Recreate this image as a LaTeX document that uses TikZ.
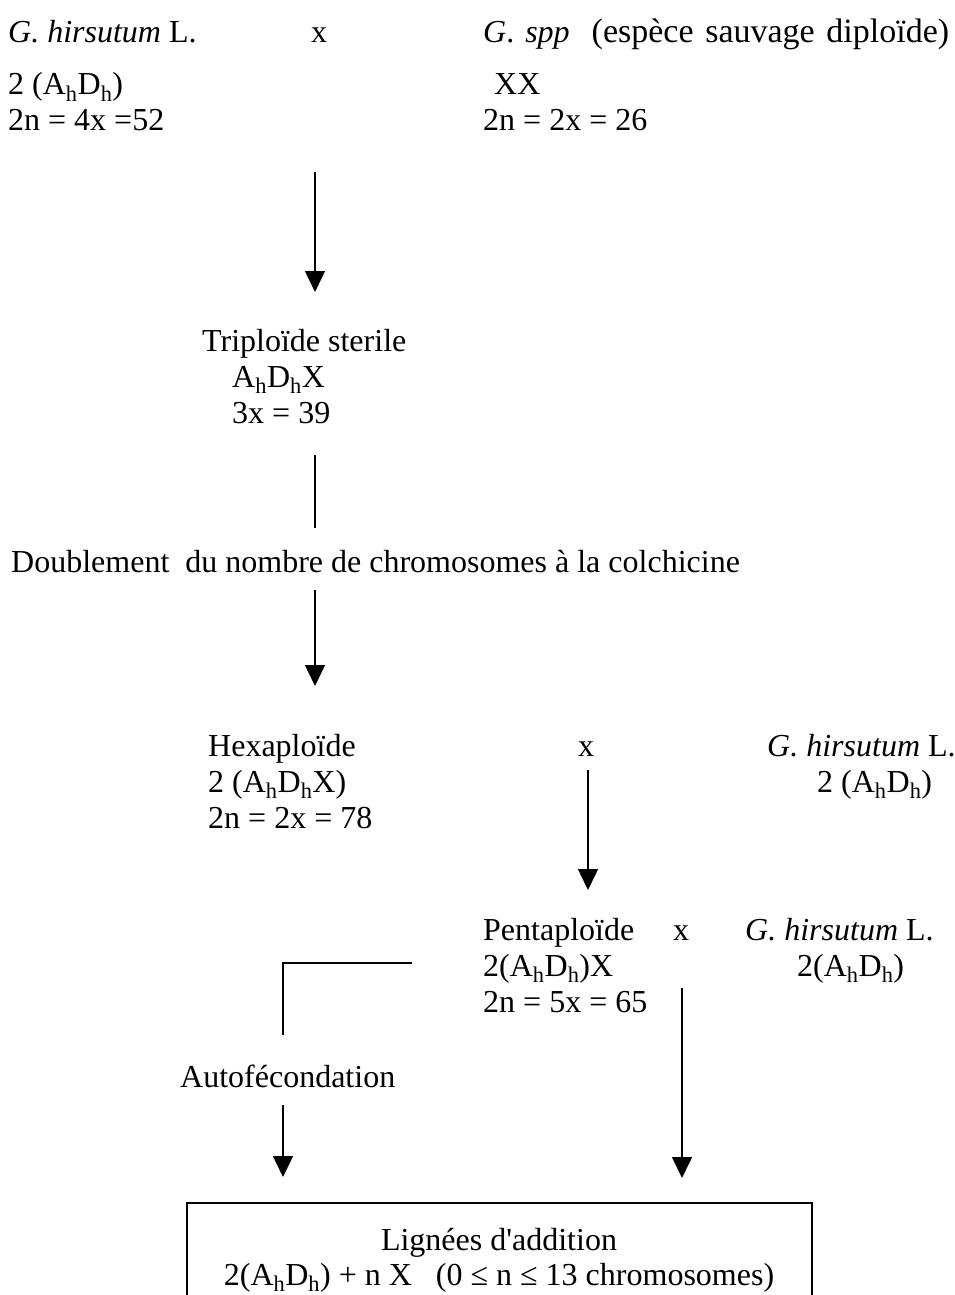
\documentclass[tikz,border=0pt]{standalone}
\usepackage{fontspec}
\setmainfont{Liberation Serif}
\usetikzlibrary{arrows.meta}
\newcommand{\Ah}{A\textsubscript{h}}
\newcommand{\Dh}{D\textsubscript{h}}
\begin{document}
\begin{tikzpicture}[x=1pt,y=-1pt,
  txt/.style={anchor=base west,inner sep=0pt,font=\fontsize{32}{36}\selectfont},
  link/.style={line width=1.5pt},
  arr/.style={line width=1.5pt,-{Triangle[length=21pt,width=20pt]}}]
\path[use as bounding box,clip] (0,0) rectangle (955,1295);
% top row
\node[txt] (p1) at (8,43) {\textit{G. hirsutum} L.};
\node[txt] (x1) at (311,43) {x};
\node[txt] (p2) at (483,43) {\makebox[466pt][s]{\textit{G}. \textit{spp}\ \ {\fontsize{34}{36}\selectfont (espèce sauvage diploïde)}}};
\node[txt] (p1g) at (8,95) {2 (\Ah\Dh)};
\node[txt] (p2g) at (494,95) {XX};
\node[txt] (p1n) at (8,131) {2n = 4x =52};
\node[txt] (p2n) at (483,131) {2n = 2x = 26};
\coordinate (a1s) at (315,172);
\coordinate (a1e) at (315,292);
\draw[arr] (a1s) -- (a1e);
% triploid
\node[txt] (t1) at (202,351) {Triploïde sterile};
\node[txt] (t2) at (232,387) {\Ah\Dh X};
\node[txt] (t3) at (232,423) {3x = 39};
\coordinate (l1s) at (315,455);
\coordinate (l1e) at (315,528);
\draw[link] (l1s) -- (l1e);
\node[txt] (dbl) at (11,572) {Doublement\ \ du nombre de chromosomes à la colchicine};
\coordinate (a2s) at (315,590);
\coordinate (a2e) at (315,686);
\draw[arr] (a2s) -- (a2e);
% hexaploid
\node[txt] (h1) at (208,756) {Hexaploïde};
\node[txt] (h2) at (208,792) {2 (\Ah\Dh X)};
\node[txt] (h3) at (208,828) {2n = 2x = 78};
\node[txt] (x2) at (578,756) {x};
\node[txt] (g1) at (767,756) {\textit{G. hirsutum} L.};
\node[txt] (g1g) at (817,792) {2 (\Ah\Dh)};
\coordinate (a3s) at (588,770);
\coordinate (a3e) at (588,890);
\draw[arr] (a3s) -- (a3e);
% pentaploid
\node[txt] (pe1) at (483,940) {Pentaploïde};
\node[txt] (pe2) at (483,976) {2(\Ah\Dh)X};
\node[txt] (pe3) at (483,1012) {2n = 5x = 65};
\node[txt] (x3) at (673,940) {x};
\node[txt] (g2) at (745,940) {\textit{G. hirsutum} L.};
\node[txt] (g2g) at (797,976) {2(\Ah\Dh)};
\coordinate (c1) at (412,963);
\coordinate (c2) at (283,963);
\coordinate (c3) at (283,1035);
\draw[link] (c1) -- (c2) -- (c3);
\node[txt] (auto) at (180,1087) {Autofécondation};
\coordinate (a4s) at (283,1105);
\coordinate (a4e) at (283,1177);
\draw[arr] (a4s) -- (a4e);
\coordinate (a5s) at (682,988);
\coordinate (a5e) at (682,1178);
\draw[arr] (a5s) -- (a5e);
% result box
\coordinate (bl) at (187,1300);
\coordinate (tl) at (187,1203);
\coordinate (tr) at (812,1203);
\coordinate (br) at (812,1300);
\draw[link] (bl) -- (tl) -- (tr) -- (br);
\node[txt,anchor=base] (r1) at (499,1250) {Lignées d\textquotesingle addition};
\node[txt,anchor=base] (r2) at (499,1285) {2(\Ah\Dh) + n X\ \ \ (0 ≤ n ≤ 13 chromosomes)};
\end{tikzpicture}
\end{document}
